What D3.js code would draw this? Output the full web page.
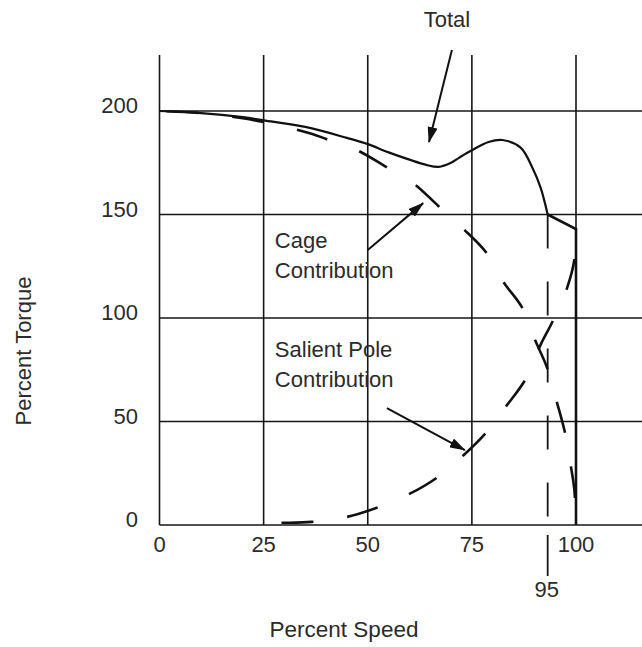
<!DOCTYPE html>
<html>
<head>
<meta charset="utf-8">
<script src="https://cdn.jsdelivr.net/npm/d3@7/dist/d3.min.js"></script>
<style>
  body { margin: 0; background: #fff; }
  text { font-family: "Liberation Sans", Arial, sans-serif; fill: #2b2b2b; }
</style>
</head>
<body>
<div id="chart"></div>
<script>
// values (percent speed, percent torque)
const speedTicks  = [0, 25, 50, 75, 100];
const torqueTicks = [0, 50, 100, 150, 200];

const totalCurve = [[0,200],[10,199],[20,197],[25,195.5],[35,192.3],[45,187],[50,184],[55,180],
  [60,176.5],[64,174],[67,173],[70,175],[72,177.5],[75,181],[79,185],[82.3,186],[86.7,182.3],
  [89.5,172.7],[91.5,163],[93.2,150]];
const totalDrop = [[93.2,150],[100,143],[100,0]];

const cageCurve = [[0,200],[10,199],[20,196.5],[30,192.5],[36.5,189],[40,186.5],[47.5,181],[54,173.5],
  [61,165],[67,154],[73,143],[78.5,131.5],[82.6,117.3],[87,105.2],[90.2,89.2],[93,76.3],
  [95.4,59.4],[97.4,44.2],[98.8,28],[99.6,17],[100,0]];

const salientCurve = [[27.5,0.8],[28.5,1],[36.5,1.5],[45,3.9],[52,8.2],[60,15],[66.7,23],[73,33.7],
  [78.5,44.8],[83.4,57.8],[88,70.8],[91.6,87.5],[94.4,98.4],[97.9,114.8],[99.6,128],[100,142]];

// synchronising speed mark (drawn left of its nominal spot in the original)
const syncSpeed = 93.2, syncLabel = "95";

const notes = [
  { lines: ["Total"], x: 69, y: 240.6, anchor: "middle" },
  { lines: ["Cage", "Contribution"], x: 27.7, y: 133.8, anchor: "start" },
  { lines: ["Salient Pole", "Contribution"], x: 27.7, y: 81.2, anchor: "start" }
];
const arrows = [
  { from: [70.2, 229.5], to: [64.7, 185] },
  { from: [50, 132.8], to: [63.3, 155.5] },
  { from: [54.6, 56.5], to: [73.3, 36.2] }
];

const W = 642, H = 647;
const x = d3.scaleLinear().domain([0, 100]).range([159.5, 576]);
const y = d3.scaleLinear().domain([0, 200]).range([525, 111]);
const yTop = 227;

const svg = d3.select("#chart").append("svg").attr("width", W).attr("height", H);

svg.append("defs").append("marker")
  .attr("id", "head").attr("markerUnits", "userSpaceOnUse")
  .attr("viewBox", "0 0 16 10").attr("refX", 15).attr("refY", 5)
  .attr("markerWidth", 16).attr("markerHeight", 10).attr("orient", "auto")
  .append("path").attr("d", "M0,0L16,5L0,10Z").attr("fill", "#111");

// grid
const grid = svg.append("g").attr("stroke", "#161616").attr("stroke-width", 1.6);
grid.selectAll(".v").data(speedTicks).join("line")
  .attr("x1", d => x(d)).attr("x2", d => x(d))
  .attr("y1", y(yTop)).attr("y2", y(0));
grid.selectAll(".h").data(torqueTicks).join("line")
  .attr("x1", x(0)).attr("x2", W)
  .attr("y1", d => y(d)).attr("y2", d => y(d));

// tick labels
svg.append("g").selectAll("text").data(speedTicks).join("text")
  .attr("x", d => x(d)).attr("y", y(0) + 27).attr("text-anchor", "middle")
  .attr("font-size", 22).text(d => d);
svg.append("g").selectAll("text").data(torqueTicks).join("text")
  .attr("x", 138).attr("y", d => y(d) + 2).attr("text-anchor", "end")
  .attr("font-size", 22).text(d => d);

// 95 mark
svg.append("line").attr("x1", x(syncSpeed)).attr("x2", x(syncSpeed))
  .attr("y1", y(150)).attr("y2", y(0))
  .attr("stroke", "#161616").attr("stroke-width", 1.8).attr("stroke-dasharray", "34,33");
svg.append("line").attr("x1", x(syncSpeed)).attr("x2", x(syncSpeed))
  .attr("y1", y(0) + 10).attr("y2", y(0) + 51)
  .attr("stroke", "#161616").attr("stroke-width", 1.8);
svg.append("text").attr("x", x(syncSpeed) - 1).attr("y", y(0) + 72)
  .attr("text-anchor", "middle").attr("font-size", 22).text(syncLabel);

// axis titles
svg.append("text").attr("x", 344).attr("y", 637).attr("text-anchor", "middle")
  .attr("font-size", 22.5).text("Percent Speed");
svg.append("text").attr("transform", "translate(31,351)rotate(-90)")
  .attr("text-anchor", "middle").attr("font-size", 22).text("Percent Torque");

// curves
const smooth = d3.line().x(d => x(d[0])).y(d => y(d[1])).curve(d3.curveCatmullRom.alpha(0.5));
const straight = d3.line().x(d => x(d[0])).y(d => y(d[1]));

function dashOffset(node, target, period) {
  const L = node.getTotalLength(), tx = x(target[0]), ty = y(target[1]);
  let best = 0, bd = Infinity;
  for (let s = 0; s <= L; s += 0.5) {
    const p = node.getPointAtLength(s), d = (p.x - tx) ** 2 + (p.y - ty) ** 2;
    if (d < bd) { bd = d; best = s; }
  }
  return (period - best % period) % period;
}

const cage = svg.append("path").attr("d", smooth(cageCurve)).attr("fill", "none")
  .attr("stroke", "#111").attr("stroke-width", 2.6).attr("stroke-dasharray", "32,34");
cage.attr("stroke-dashoffset", dashOffset(cage.node(), [33, 191], 66));

const salient = svg.append("path").attr("d", smooth(salientCurve)).attr("fill", "none")
  .attr("stroke", "#111").attr("stroke-width", 2.6).attr("stroke-dasharray", "32,34");
salient.attr("stroke-dashoffset", dashOffset(salient.node(), [45, 3.9], 66));

svg.append("path").attr("d", smooth(totalCurve)).attr("fill", "none")
  .attr("stroke", "#111").attr("stroke-width", 2.2);
svg.append("path").attr("d", straight(totalDrop)).attr("fill", "none")
  .attr("stroke", "#111").attr("stroke-width", 2.6);

// annotations
svg.append("g").selectAll("line").data(arrows).join("line")
  .attr("x1", d => x(d.from[0])).attr("y1", d => y(d.from[1]))
  .attr("x2", d => x(d.to[0])).attr("y2", d => y(d.to[1]))
  .attr("stroke", "#111").attr("stroke-width", 2).attr("marker-end", "url(#head)");

notes.forEach(n => {
  const t = svg.append("text").attr("x", x(n.x)).attr("y", y(n.y))
    .attr("text-anchor", n.anchor).attr("font-size", 22);
  n.lines.forEach((l, i) => t.append("tspan").attr("x", x(n.x)).attr("dy", i ? 30 : 0).text(l));
});
</script>
</body>
</html>
